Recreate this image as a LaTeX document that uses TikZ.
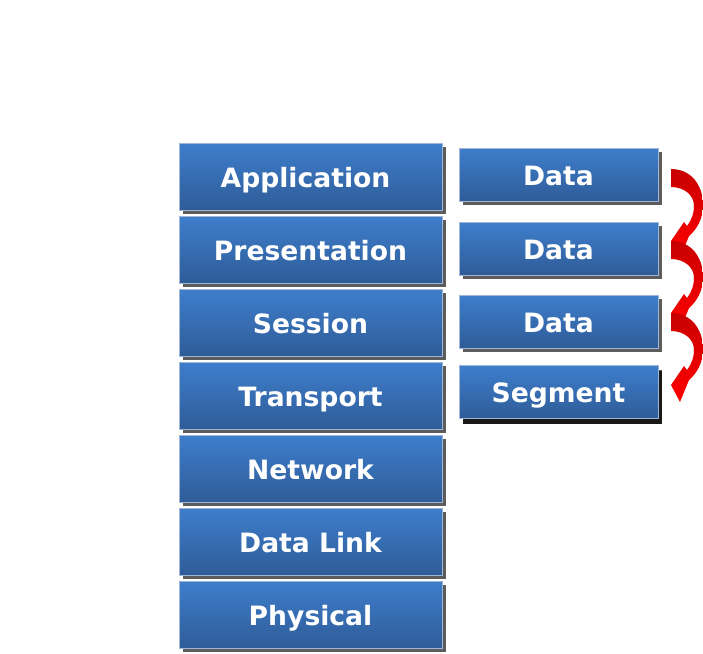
\documentclass[tikz,border=0pt]{standalone}
\usepackage{fontspec}
\setmainfont{DejaVu Sans}
\usetikzlibrary{shadows}
\definecolor{boxtop}{RGB}{62,126,204}
\definecolor{boxbot}{RGB}{47,92,152}
\definecolor{boxedge}{RGB}{160,182,214}
\definecolor{shade}{RGB}{92,92,92}
\definecolor{arrdark}{RGB}{200,0,0}
\definecolor{arrmid}{RGB}{228,0,0}
\tikzset{
  layer/.style={rectangle, minimum width=263pt, minimum height=67pt, inner sep=0pt,
    top color=boxtop, bottom color=boxbot, draw=boxedge, line width=0.6pt,
    text=white, font=\bfseries\fontsize{26.6}{26.6}\selectfont,
    text height=21.8pt, text depth=0pt,
    drop shadow={shadow xshift=4pt, shadow yshift=-4pt, fill=shade, opacity=1}},
  unit/.style={layer, minimum width=199pt, minimum height=53pt},
  blackshadow/.style={drop shadow={shadow xshift=4pt, shadow yshift=-5pt, fill=black!90, opacity=1}},
  curly/.pic={
    \shade[top color=arrdark, bottom color=red, middle color=arrmid]
      (0,0) .. controls (20,0) and (32,16) .. (32,36)
      .. controls (32,50) and (26,60) .. (18,67)
      -- (9,89) -- (0,72) -- (13,53) -- (16,57)
      .. controls (21,50) and (23,44) .. (23,37)
      .. controls (23,26) and (13,18) .. (0,18) -- cycle;
  }
}
\begin{document}
\begin{tikzpicture}[x=1pt,y=-1pt]
\fill[white] (0,0) rectangle (703,653);
\useasboundingbox (0,0) rectangle (703,653);
\node[layer] (app)  at (310.5,176.5) {Application\kern10pt};
\node[layer] (pres) at (310.5,249.5) {Presentation};
\node[layer] (sess) at (310.5,322.5) {Session};
\node[layer] (trans) at (310.5,395.5) {Transport};
\node[layer] (net)  at (310.5,468.5) {Network};
\node[layer] (dl)   at (310.5,541.5) {Data Link};
\node[layer] (phy)  at (310.5,614.5) {Physical};
\node[unit] (d1) at (558.5,174.5) {Data};
\node[unit] (d2) at (558.5,248.5) {Data};
\node[unit] (d3) at (558.5,321.5) {Data};
\node[unit, blackshadow] (seg) at (558.5,392) {Segment};
\pic at (671,169) {curly};
\pic at (671,241) {curly};
\pic at (671,313) {curly};
\end{tikzpicture}
\end{document}
